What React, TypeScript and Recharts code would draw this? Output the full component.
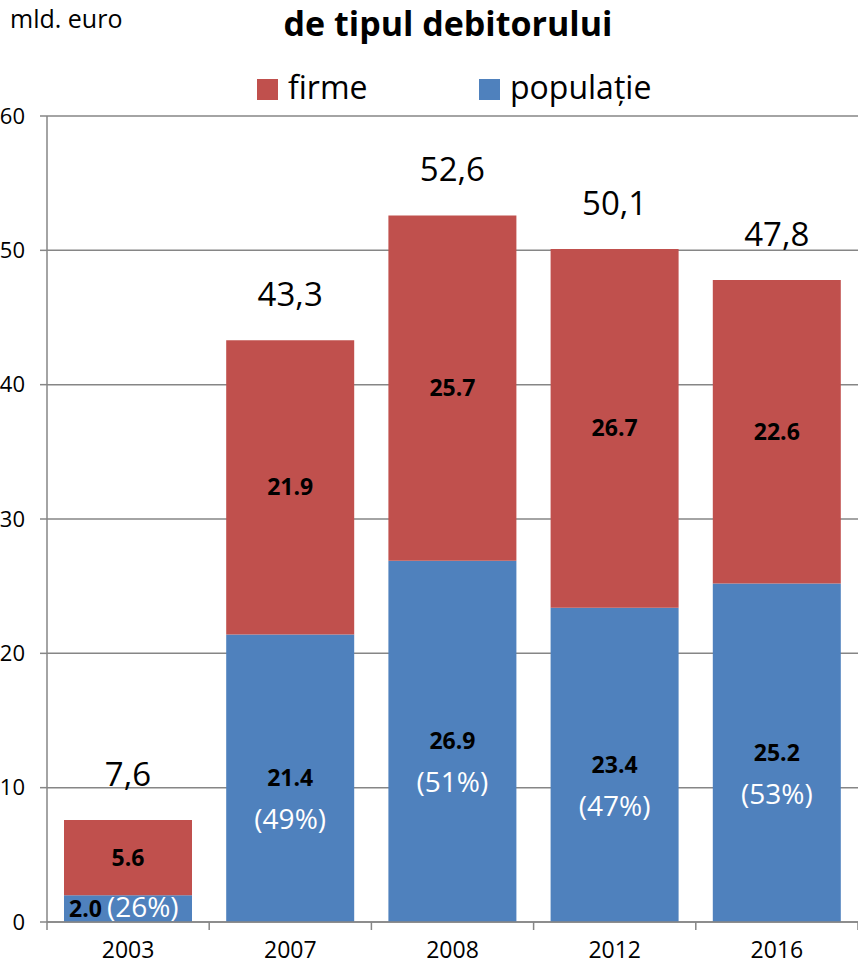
import { BarChart, Bar, XAxis, YAxis, CartesianGrid, LabelList } from 'recharts';

const years = ['2003', '2007', '2008', '2012', '2016'];
const populatie = [2.0, 21.4, 26.9, 23.4, 25.2];
const firme = [5.6, 21.9, 25.7, 26.7, 22.6];
const totals = [7.6, 43.3, 52.6, 50.1, 47.8];
const populatieShare = [26, 49, 51, 47, 53];
const yTicks = [0, 10, 20, 30, 40, 50, 60];

const W = 858;
const H = 966;
const AXIS_W = 47;
const X_AXIS_H = 44;
const PLOT_BOTTOM = H - X_AXIS_H;
const BAND = (W - AXIS_W) / years.length;

const RED = '#C0504D';
const BLUE = '#4F81BD';
const GRID = '#868686';
const FONT = '"Open Sans", "Noto Sans", sans-serif';

const data = years.map((year, i) => ({
  year,
  populatie: populatie[i],
  firme: firme[i],
  total: totals[i],
  share: populatieShare[i],
}));

function YearTick(props: any) {
  const { x, payload, index } = props;
  return (
    <g>
      <line x1={x - BAND / 2} x2={x - BAND / 2} y1={PLOT_BOTTOM} y2={PLOT_BOTTOM + 8} stroke={GRID} strokeWidth={1.5} />
      {index === years.length - 1 && (
        <line x1={x + BAND / 2} x2={x + BAND / 2} y1={PLOT_BOTTOM} y2={PLOT_BOTTOM + 8} stroke={GRID} strokeWidth={1.5} />
      )}
      <text x={x} y={PLOT_BOTTOM + 36} textAnchor="middle" fontSize={23} fontFamily={FONT} fill="#000">
        {payload.value}
      </text>
    </g>
  );
}

function PopLabel(props: any) {
  const { x, y, width, height, index } = props;
  const val = populatie[index];
  const share = populatieShare[index];
  const mid = y + height / 2;
  if (height < 40) {
    return (
      <text x={x + 5} y={mid + 8} fontFamily={FONT}>
        <tspan fontSize={23} fontWeight={700} fill="#000">{val.toFixed(1)}</tspan>
        <tspan dx={5} fontSize={28} fill="#fff">({share}%)</tspan>
      </text>
    );
  }
  return (
    <g>
      <text x={x + width / 2} y={mid + 8} textAnchor="middle" fontSize={23} fontWeight={700} fontFamily={FONT} fill="#000">
        {val.toFixed(1)}
      </text>
      <text x={x + width / 2} y={mid + 51} textAnchor="middle" fontSize={28} fontFamily={FONT} fill="#fff">
        ({share}%)
      </text>
    </g>
  );
}

function FirmeLabel(props: any) {
  const { x, y, width, height, value } = props;
  return (
    <text x={x + width / 2} y={y + height / 2 + 8} textAnchor="middle" fontSize={23} fontWeight={700} fontFamily={FONT} fill="#000">
      {Number(value).toFixed(1)}
    </text>
  );
}

function TotalLabel(props: any) {
  const { x, y, width, value } = props;
  return (
    <text x={x + width / 2} y={y - 34} textAnchor="middle" fontSize={33} fontFamily={FONT} fill="#000">
      {Number(value).toFixed(1).replace('.', ',')}
    </text>
  );
}

export default function App() {
  return (
    <div style={{ position: 'absolute', left: 0, top: 0, width: W, height: H, background: '#fff', fontFamily: FONT }}>
      <BarChart
        width={W}
        height={H}
        data={data}
        margin={{ top: 116, right: 0, bottom: 0, left: 0 }}
        barSize={128}
      >
        <CartesianGrid vertical={false} stroke={GRID} strokeWidth={1.5} />
        <YAxis
          width={AXIS_W}
          domain={[0, 60]}
          ticks={yTicks}
          interval={0}
          axisLine={{ stroke: GRID, strokeWidth: 1.5 }}
          tickLine={{ stroke: GRID, strokeWidth: 1.5 }}
          tickSize={7}
          tickMargin={15}
          tick={{ fill: '#000', fontSize: 22, fontFamily: FONT }}
        />
        <XAxis
          dataKey="year"
          height={X_AXIS_H}
          axisLine={{ stroke: GRID, strokeWidth: 1.5 }}
          tickLine={false}
          interval={0}
          tick={<YearTick />}
        />
        <Bar dataKey="populatie" stackId="a" fill={BLUE} isAnimationActive={false}>
          <LabelList dataKey="populatie" content={<PopLabel />} />
        </Bar>
        <Bar dataKey="firme" stackId="a" fill={RED} isAnimationActive={false}>
          <LabelList dataKey="firme" content={<FirmeLabel />} />
          <LabelList dataKey="total" content={<TotalLabel />} />
        </Bar>
      </BarChart>
      <svg width={W} height={120} style={{ position: 'absolute', left: 0, top: 0, pointerEvents: 'none' }}>
        <text x={10} y={28} fontSize={25} fontFamily={FONT} fill="#000">mld. euro</text>
        <text x={448} y={36} textAnchor="middle" fontSize={34} fontWeight={700} fontFamily={FONT} fill="#000">
          de tipul debitorului
        </text>
        <rect x={257} y={79} width={21} height={21} fill={RED} />
        <text x={288} y={99} fontSize={32} fontFamily={FONT} fill="#000">firme</text>
        <rect x={479} y={79} width={21} height={21} fill={BLUE} />
        <text x={510} y={99} fontSize={32} fontFamily={FONT} fill="#000">populație</text>
      </svg>
    </div>
  );
}
